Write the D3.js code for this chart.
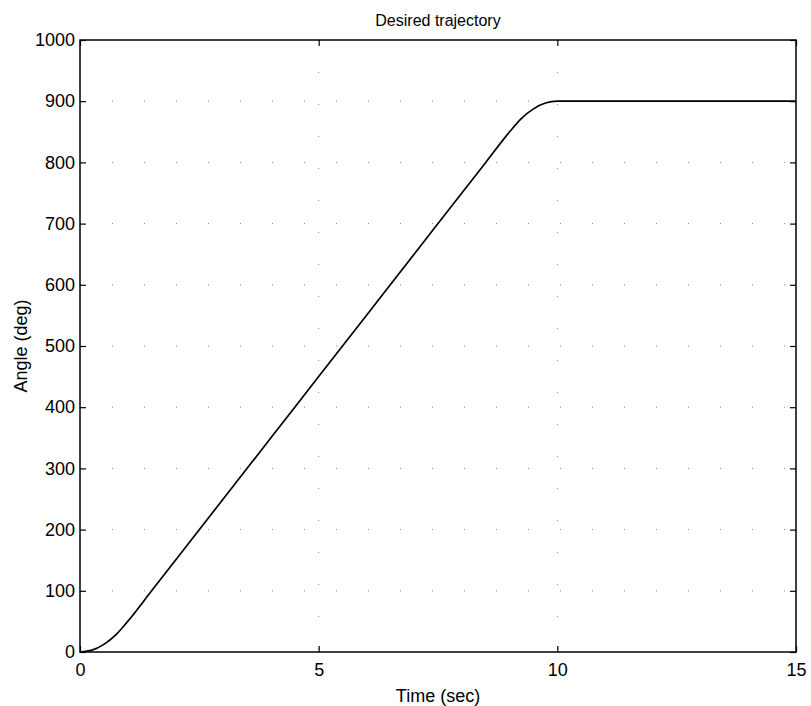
<!DOCTYPE html>
<html>
<head>
<meta charset="utf-8">
<script src="https://cdn.jsdelivr.net/npm/d3@7"></script>
<style>
  body { margin: 0; background: #fff; }
  text { font-family: "Liberation Sans", Arial, sans-serif; fill: #000; }
</style>
</head>
<body>
<svg id="chart"></svg>
<script>
// trajectory
var timeSec  = [0, 0.25, 0.5, 0.75, 1, 1.5, 2, 3, 4, 5, 6, 7, 8, 8.5, 9, 9.25, 9.5, 9.75, 10, 12, 15];
var angleDeg = [0, 3, 12.5, 28, 50, 100, 150, 250, 350, 450, 550, 650, 750, 800, 850, 872, 887.5, 897, 900, 900, 900];

var xTicks = [0, 5, 10, 15];
var yTicks = [0, 100, 200, 300, 400, 500, 600, 700, 800, 900, 1000];

var titleText = "Desired trajectory";
var xLabel = "Time (sec)";
var yLabel = "Angle (deg)";

var width = 811, height = 706;
var margin = {top: 40, right: 15, bottom: 54, left: 80};
var w = width - margin.left - margin.right,
    h = height - margin.top - margin.bottom;

var svg = d3.select("#chart").attr("width", width).attr("height", height);
var g = svg.append("g").attr("transform", "translate(" + margin.left + "," + margin.top + ")");

var x = d3.scaleLinear().domain([0, 15]).range([0, w]);
var y = d3.scaleLinear().domain([0, 1000]).range([h, 0]);

// sparse dotted grid (mostly lost in the scan)
g.append("g").selectAll("line.gy")
  .data(yTicks.slice(1, -1))
  .enter().append("line")
  .attr("x1", 0).attr("x2", w)
  .attr("y1", function(d) { return y(d); }).attr("y2", function(d) { return y(d); })
  .attr("stroke", "#888").attr("stroke-width", 1)
  .attr("stroke-dasharray", "1,31");
g.append("g").selectAll("line.gx")
  .data(xTicks.slice(1, -1))
  .enter().append("line")
  .attr("y1", 0).attr("y2", h)
  .attr("x1", function(d) { return x(d); }).attr("x2", function(d) { return x(d); })
  .attr("stroke", "#888").attr("stroke-width", 1)
  .attr("stroke-dasharray", "1,31");

// axes, matlab style: ticks inward on all four sides
var fmt = d3.format("d");
var axB = g.append("g").attr("transform", "translate(0," + h + ")")
  .call(d3.axisBottom(x).tickValues(xTicks).tickSize(-6).tickPadding(11).tickFormat(fmt));
var axT = g.append("g")
  .call(d3.axisTop(x).tickValues(xTicks).tickSize(-6).tickFormat(""));
var axL = g.append("g")
  .call(d3.axisLeft(y).tickValues(yTicks).tickSize(-6).tickPadding(5).tickFormat(fmt));
var axR = g.append("g").attr("transform", "translate(" + w + ",0)")
  .call(d3.axisRight(y).tickValues(yTicks).tickSize(-6).tickFormat(""));

[axB, axT, axL, axR].forEach(function(a) {
  a.select(".domain").remove();
  a.selectAll("line").attr("stroke", "#000").attr("stroke-width", 1.2);
  a.selectAll("text").style("font-size", "18px").style("font-family", "Liberation Sans, Arial, sans-serif");
});

g.append("rect")
  .attr("width", w).attr("height", h)
  .attr("fill", "none").attr("stroke", "#000").attr("stroke-width", 1.5);

// the curve
var pts = timeSec.map(function(t, i) { return [t, angleDeg[i]]; });
var line = d3.line()
  .x(function(d) { return x(d[0]); })
  .y(function(d) { return y(d[1]); })
  .curve(d3.curveMonotoneX);
g.append("path")
  .datum(pts)
  .attr("d", line)
  .attr("fill", "none")
  .attr("stroke", "#000")
  .attr("stroke-width", 1.7);

// labels
svg.append("text")
  .attr("x", margin.left + w / 2).attr("y", 26)
  .attr("text-anchor", "middle").style("font-size", "16px")
  .text(titleText);
svg.append("text")
  .attr("x", margin.left + w / 2).attr("y", 702)
  .attr("text-anchor", "middle").style("font-size", "18px")
  .text(xLabel);
svg.append("text")
  .attr("transform", "translate(27," + (margin.top + h / 2) + ") rotate(-90)")
  .attr("text-anchor", "middle").style("font-size", "18px")
  .text(yLabel);
</script>
</body>
</html>
